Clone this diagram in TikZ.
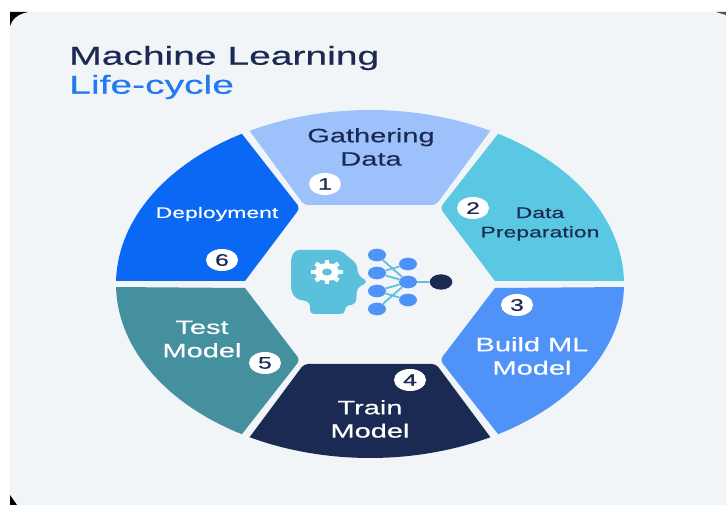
\documentclass[tikz,border=0pt]{standalone}
\usepackage{fontspec}
\usetikzlibrary{shapes.geometric}
\setmainfont[FakeStretch=1.5,FakeBold=0.4]{Liberation Sans}
\definecolor{panelbg}{HTML}{F1F5F8}
\definecolor{navy}{HTML}{1B2A52}
\definecolor{segone}{HTML}{9DC1FB}
\definecolor{segtwo}{HTML}{5AC8E2}
\definecolor{segthree}{HTML}{4F93F8}
\definecolor{segfive}{HTML}{45909F}
\definecolor{segsix}{HTML}{0A68F5}
\definecolor{headcol}{HTML}{5BC0DC}
\definecolor{titleblue}{HTML}{2478F0}
\tikzset{
  x=0.75pt,y=-0.75pt,
  badge/.style={fill=white,ellipse,minimum width=24pt,inner sep=0pt,minimum height=16.5pt,font=\fontsize{12.5}{13}\selectfont,text=navy},
  lbl/.style={align=center,inner sep=0pt},
  big/.style={lbl,font=\fontsize{14.5}{17.5}\selectfont},
  small/.style={lbl,font=\fontsize{11.5}{14.5}\selectfont},
  net/.style={ellipse,fill=segthree,minimum width=13.5pt,minimum height=9.5pt,inner sep=0pt},
  link/.style={headcol,line width=1.3pt}
}
\begin{document}
\begin{tikzpicture}
\useasboundingbox (0,0) rectangle (726,505);
\fill[white] (0,0) rectangle (726,505);
\fill[panelbg] (10,12) rectangle (726,505);
% corner residue
\fill[black] (10,12) -- (28,12) .. controls (18,14) and (12,19) .. (10,26) -- cycle;
\fill[black] (10,495) -- (10,505) -- (17,505) -- cycle;
\fill[black!70] (716,12) -- (726,12) -- (726,15) -- cycle;
% segments: wheel centre (370,284), radii 254 x 174
\fill[segone] plot[domain=118.3:61.7,samples=40] ({370+254*cos(\x)},{284-174*sin(\x)}) [rounded corners=3pt] -- (436,205) -- (304,205) [sharp corners] -- cycle;
\fill[segtwo] plot[domain=59.7:1,samples=40] ({370+254*cos(\x)},{284-174*sin(\x)}) -- (495,281) [rounded corners=3pt] -- (440,208) [sharp corners] -- cycle;
\fill[segthree] plot[domain=-1:-59.7,samples=40] ({370+254*cos(\x)},{284-174*sin(\x)}) [rounded corners=3pt] -- (440,360) [sharp corners] -- (495,288) -- cycle;
\fill[navy] plot[domain=-61.7:-118.3,samples=40] ({370+254*cos(\x)},{284-174*sin(\x)}) [rounded corners=3pt] -- (304,364) -- (436,364) [sharp corners] -- cycle;
\fill[segfive] plot[domain=-120.3:-179,samples=40] ({370+254*cos(\x)},{284-174*sin(\x)}) -- (245,288) [rounded corners=3pt] -- (300,360) [sharp corners] -- cycle;
\fill[segsix] plot[domain=179:120.3,samples=40] ({370+254*cos(\x)},{284-174*sin(\x)}) [rounded corners=3pt] -- (300,208) [sharp corners] -- (245,281) -- cycle;
% labels
\node[lbl,anchor=west,font=\fontsize{19.5}{22}\selectfont,text=navy] (title) at (69,58) {Machine Learning};
\node[lbl,anchor=west,font=\fontsize{19.5}{22}\selectfont,text=titleblue] (sub) at (69,87) {Life-cycle};
\node[big,text=navy] (gather) at (371,147) {Gathering\\Data};
\node[small,text=navy] (prep) at (540,224) {Data\\Preparation};
\node[big,text=white] (build) at (532,356) {Build ML\\Model};
\node[big,text=white] (train) at (370,419) {Train\\Model};
\node[big,text=white] (test) at (202,339) {Test\\Model};
\node[small,text=white] (deploy) at (217,214) {Deployment};
% badges
\node[badge] (b1) at (325,184) {1};
\node[badge] (b2) at (473,208) {2};
\node[badge] (b3) at (517,305) {3};
\node[badge] (b4) at (410,380) {4};
\node[badge] (b5) at (265,363) {5};
\node[badge] (b6) at (222,260) {6};
% head
\fill[headcol,rounded corners=3pt] (291,258) -- (295,250) -- (340,250) -- (357,264) -- (358,275) -- (368,282) -- (357,288) -- (356,304) -- (345,306) -- (345,314) -- (310,314) -- (310,302) -- (296,299) -- (291,291) -- cycle;
% gear
\foreach \a in {0,45,...,315}
  \draw[white,line width=3.4pt] ({327+6*cos(\a)},{272+5*sin(\a)}) -- ({327+16*cos(\a)},{272+12*sin(\a)});
\fill[white] (327,272) ellipse [x radius=12,y radius=9];
\fill[headcol] (327,272) ellipse [x radius=5,y radius=3.5];
% network
\node[net] (n1) at (377,255) {};
\node[net] (n2) at (377,273) {};
\node[net] (n3) at (377,291) {};
\node[net] (n4) at (377,309) {};
\node[net] (m1) at (408,264) {};
\node[net] (m2) at (408,282) {};
\node[net] (m3) at (408,300) {};
\node[ellipse,fill=navy,minimum width=17pt,minimum height=11.5pt,inner sep=0pt] (out) at (441,282) {};
\foreach \p/\q in {n1/m2,n2/m2,n3/m2,n4/m2,n2/m1,n3/m3}
  \draw[link] (\p) -- (\q);
\draw[link] (m2) -- (out);
\end{tikzpicture}
\end{document}
